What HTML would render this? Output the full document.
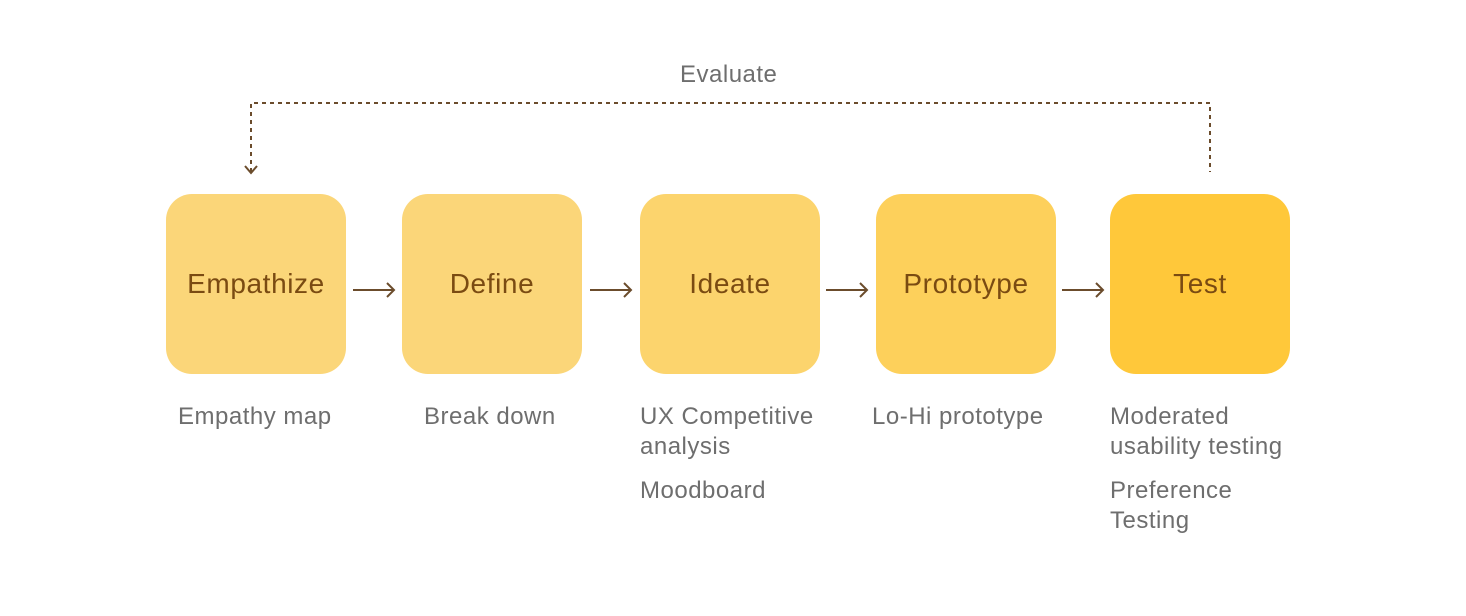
<!DOCTYPE html>
<html><head><style>
body{margin:0;width:1466px;height:616px;background:#fff;position:relative;font-family:"Liberation Sans",sans-serif;overflow:hidden}
.b{position:absolute;top:194px;width:180px;height:180px;border-radius:26px;display:flex;align-items:center;justify-content:center;font-size:28px;letter-spacing:0.6px;color:#7a4b12}
.l{position:absolute;font-size:24px;letter-spacing:0.5px;color:#6e6e6e;line-height:30px;white-space:nowrap}
</style></head><body>
<svg width="1466" height="616" style="position:absolute;left:0;top:0">
<g stroke="#6b4c2c" stroke-width="2" fill="none">
<path d="M251 172 V103 H1210 V172" stroke-dasharray="4 4"/>
<path d="M245 166 L251 173 L257 166"/>
<path d="M353 290 H394 M387 283 L394 290 L387 297"/>
<path d="M590 290 H631 M624 283 L631 290 L624 297"/>
<path d="M826 290 H867 M860 283 L867 290 L860 297"/>
<path d="M1062 290 H1103 M1096 283 L1103 290 L1096 297"/>
</g>
</svg>
<div class="l" style="left:680px;top:60px">Evaluate</div>
<div class="b" style="left:166px;background:#fbd679">Empathize</div>
<div class="b" style="left:402px;background:#fbd679">Define</div>
<div class="b" style="left:640px;background:#fcd46d">Ideate</div>
<div class="b" style="left:876px;background:#fdd05b">Prototype</div>
<div class="b" style="left:1110px;background:#ffc83a">Test</div>
<div class="l" style="left:178px;top:402px">Empathy map</div>
<div class="l" style="left:424px;top:402px">Break down</div>
<div class="l" style="left:640px;top:402px">UX Competitive<br>analysis</div>
<div class="l" style="left:640px;top:476px">Moodboard</div>
<div class="l" style="left:872px;top:402px">Lo-Hi prototype</div>
<div class="l" style="left:1110px;top:402px">Moderated<br>usability testing</div>
<div class="l" style="left:1110px;top:476px">Preference<br>Testing</div>
</body></html>
